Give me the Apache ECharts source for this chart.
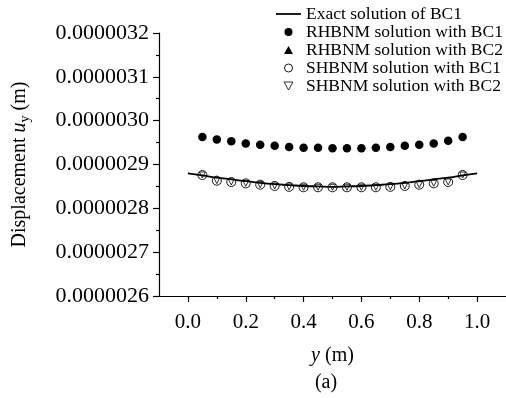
<!DOCTYPE html>
<html><head><meta charset="utf-8">
<script src="https://cdn.jsdelivr.net/npm/echarts@6/dist/echarts.min.js"></script>
<style>html,body{margin:0;padding:0;background:#fff}#c{width:506px;height:398px}</style>
</head><body><div id="c"></div>
<script>
// ---- data ----
const markerX = [0.05,0.10,0.15,0.20,0.25,0.30,0.35,0.40,0.45,0.50,0.55,0.60,0.65,0.70,0.75,0.80,0.85,0.90,0.95];
const exactX = [0.00,0.05,0.10,0.15,0.20,0.25,0.30,0.35,0.40,0.45,0.50,0.55,0.60,0.65,0.70,0.75,0.80,0.85,0.90,0.95,1.00];
const exactBC1 = [2.880e-6,2.875e-6,2.870e-6,2.866e-6,2.862e-6,2.858e-6,2.855e-6,2.853e-6,2.851e-6,2.850e-6,2.849e-6,2.850e-6,2.851e-6,2.853e-6,2.855e-6,2.858e-6,2.862e-6,2.866e-6,2.870e-6,2.875e-6,2.880e-6];
const rhbnmBC1 = [2.9625e-6,2.957e-6,2.953e-6,2.948e-6,2.945e-6,2.943e-6,2.940e-6,2.938e-6,2.938e-6,2.937e-6,2.937e-6,2.937e-6,2.938e-6,2.940e-6,2.943e-6,2.945e-6,2.948e-6,2.954e-6,2.9625e-6];
const rhbnmBC2 = [2.878e-6,2.866e-6,2.862e-6,2.859e-6,2.856e-6,2.853e-6,2.851e-6,2.850e-6,2.850e-6,2.850e-6,2.850e-6,2.850e-6,2.850e-6,2.851e-6,2.853e-6,2.856e-6,2.859e-6,2.863e-6,2.878e-6];
const shbnmBC1 = [2.876e-6,2.863e-6,2.860e-6,2.857e-6,2.854e-6,2.851e-6,2.849e-6,2.848e-6,2.848e-6,2.848e-6,2.848e-6,2.848e-6,2.848e-6,2.849e-6,2.851e-6,2.854e-6,2.857e-6,2.860e-6,2.876e-6];
const shbnmBC2 = [2.876e-6,2.863e-6,2.860e-6,2.857e-6,2.854e-6,2.851e-6,2.849e-6,2.848e-6,2.848e-6,2.848e-6,2.848e-6,2.848e-6,2.848e-6,2.849e-6,2.851e-6,2.854e-6,2.857e-6,2.860e-6,2.876e-6];
const xMajor = [0,0.2,0.4,0.6,0.8,1.0];
const xMinor = [0.1,0.3,0.5,0.7,0.9];
const yMajor = [2.6e-6,2.7e-6,2.8e-6,2.9e-6,3.0e-6,3.1e-6,3.2e-6];
const yMinor = [2.65e-6,2.75e-6,2.85e-6,2.95e-6,3.05e-6,3.15e-6];
const names = ['Exact solution of BC1','RHBNM solution with BC1','RHBNM solution with BC2','SHBNM solution with BC1','SHBNM solution with BC2'];

const F = 'Liberation Serif';
const zip = (xs, ys) => xs.map((x, i) => [x, ys[i]]);
const chart = echarts.init(document.getElementById('c'));
const baseX = {type:'value', min:-0.1, max:1.1, gridIndex:0, position:'bottom', splitLine:{show:false}};
const baseY = {type:'value', min:2.6e-6, max:3.2e-6, gridIndex:0, position:'left', splitLine:{show:false}};
chart.setOption({
  animation:false,
  backgroundColor:'#fff',
  grid:{left:157, top:33, right:-33, bottom:102, containLabel:false},
  legend:{
    orient:'vertical', left:276, top:5, padding:0, itemWidth:25, itemHeight:8, itemGap:0,
    symbolKeepAspect:true,
    textStyle:{fontFamily:F, fontSize:17.5, color:'#000', lineHeight:18},
    data:[
      {name:names[0], icon:'path://M0,0 H100 V7 H0 Z', itemStyle:{color:'#000', borderWidth:0}},
      {name:names[1], icon:'circle', itemStyle:{color:'#000', borderWidth:0}},
      {name:names[2], icon:'path://M5,0 L10,9 L0,9 Z', itemStyle:{color:'#000', borderWidth:0}},
      {name:names[3], icon:'circle', itemStyle:{color:'#fff', borderColor:'#000', borderWidth:0.9}},
      {name:names[4], icon:'path://M0,0 L10,0 L5,9 Z', itemStyle:{color:'#fff', borderColor:'#000', borderWidth:0.8}}
    ]
  },
  xAxis:[
    Object.assign({}, baseX, {
      name:'{i|y} (m)', nameLocation:'middle', nameGap:50,
      nameTextStyle:{fontFamily:F, fontSize:20, color:'#000', rich:{i:{fontFamily:F, fontStyle:'italic', fontSize:20, color:'#000'}}},
      axisLine:{onZero:false, lineStyle:{color:'#000', width:1.2}},
      axisTick:{customValues:xMajor, length:6, lineStyle:{color:'#000', width:1.2}},
      axisLabel:{customValues:xMajor, margin:16, fontFamily:F, fontSize:21, color:'#000', formatter:v=>v.toFixed(1)}
    }),
    Object.assign({}, baseX, {
      axisLine:{show:false, onZero:false},
      axisTick:{customValues:xMinor, length:3, lineStyle:{color:'#000', width:1.2}},
      axisLabel:{show:false}
    })
  ],
  yAxis:[
    Object.assign({}, baseY, {
      name:'Displacement {i|u}{s|y} (m)', nameLocation:'middle', nameGap:127,
      nameTextStyle:{fontFamily:F, fontSize:20, color:'#000', lineHeight:24,
        rich:{i:{fontFamily:F, fontStyle:'italic', fontSize:20, color:'#000', lineHeight:24},
              s:{fontFamily:F, fontSize:14, color:'#000', lineHeight:24, verticalAlign:'bottom'}}},
      axisLine:{show:true, onZero:false, lineStyle:{color:'#000', width:1.2}},
      axisTick:{customValues:yMajor, length:6, lineStyle:{color:'#000', width:1.2}},
      axisLabel:{customValues:yMajor, margin:10, fontFamily:F, fontSize:22, color:'#000', formatter:v=>v.toFixed(7)}
    }),
    Object.assign({}, baseY, {
      axisLine:{show:false, onZero:false},
      axisTick:{customValues:yMinor, length:3, lineStyle:{color:'#000', width:1.2}},
      axisLabel:{show:false}
    })
  ],
  graphic:[{type:'text', x:326, y:383, style:{text:'(a)', fontFamily:F, fontSize:20, fill:'#000', align:'center', verticalAlign:'middle'}}],
  series:[
    {name:names[0], type:'line', data:zip(exactX, exactBC1), smooth:true, showSymbol:false, symbol:'none',
      lineStyle:{color:'#000', width:1.8}, itemStyle:{color:'#000'}, z:5},
    {name:names[1], type:'scatter', data:zip(markerX, rhbnmBC1), symbol:'circle', symbolSize:8.5,
      itemStyle:{color:'#000', opacity:1}, z:2},
    {name:names[2], type:'scatter', data:zip(markerX, rhbnmBC2), symbol:'triangle', symbolSize:8,
      itemStyle:{color:'#000', opacity:1}, z:2},
    {name:names[3], type:'scatter', data:zip(markerX, shbnmBC1), symbol:'circle', symbolSize:9,
      itemStyle:{color:'#fff', borderColor:'#000', borderWidth:0.9, opacity:1}, z:3},
    {name:names[4], type:'scatter', data:zip(markerX, shbnmBC2), symbol:'triangle', symbolRotate:180, symbolSize:6,
      itemStyle:{color:'rgba(0,0,0,0)', borderColor:'#000', borderWidth:0.8, opacity:1}, z:4}
  ]
});
</script></body></html>
